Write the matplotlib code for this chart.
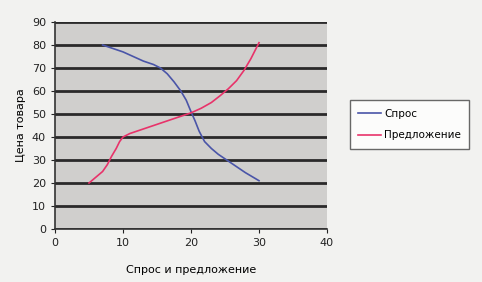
import matplotlib
matplotlib.use("Agg")
import matplotlib.pyplot as plt

# demand curve (quantity, price)
demand_q = [7, 8.5, 10, 11.5, 13, 14.5, 15.5, 16.5, 17.5, 18.5, 19.3, 20, 20.6, 21.2, 22, 23, 24, 25, 26.5, 28, 30]
demand_p = [80, 78.5, 77, 75, 73, 71.5, 70, 67.5, 64, 60, 56, 51, 47, 42.5, 38, 35, 32.5, 30.5, 27.5, 24.5, 21]
# supply curve
supply_q = [5, 6, 7, 7.7, 8.3, 9, 9.5, 10, 11, 12.5, 14, 16, 18, 20, 21.5, 23, 24.3, 25.5, 26.7, 27.8, 28.8, 30]
supply_p = [20, 22.5, 25, 28, 31.5, 35, 38, 40, 41.5, 43, 44.5, 46.5, 48.5, 50.5, 52.5, 55, 58, 61, 64.5, 69, 74, 81]

fig = plt.figure(figsize=(4.82, 2.82), dpi=100)
fig.patch.set_facecolor("#f2f2f0")
ax = fig.add_axes([55/482, 53/282, 272/482, 207/282])
ax.set_facecolor("#d0cfcd")

ax.plot(demand_q, demand_p, color="#4a55a8", lw=1.2, label="Спрос")
ax.plot(supply_q, supply_p, color="#e8336a", lw=1.2, label="Предложение")

ax.set_xlim(0, 40)
ax.set_ylim(0, 90)
ax.set_xticks(range(0, 41, 10))
ax.set_yticks(range(0, 91, 10))
ax.grid(axis="y", color="#2a2a2a", lw=2)
ax.set_axisbelow(True)
for s in ["top", "right"]:
    ax.spines[s].set_visible(False)
for s in ["left", "bottom"]:
    ax.spines[s].set_color("#333333")
    ax.spines[s].set_linewidth(1.2)
ax.tick_params(labelsize=8, length=3, colors="#222222")
ax.set_xlabel("Спрос и предложение", fontsize=8, labelpad=12)
ax.set_ylabel("Цена товара", fontsize=8, labelpad=4)

leg = ax.legend(loc="center left", bbox_to_anchor=(1.065, 0.505), fontsize=7.5,
                frameon=True, fancybox=False, handlelength=2.2, handletextpad=0.3,
                borderpad=0.8, labelspacing=1.1, edgecolor="#444444")
leg.get_frame().set_facecolor("white")

fig.savefig("out.png", dpi=100, facecolor=fig.get_facecolor())
